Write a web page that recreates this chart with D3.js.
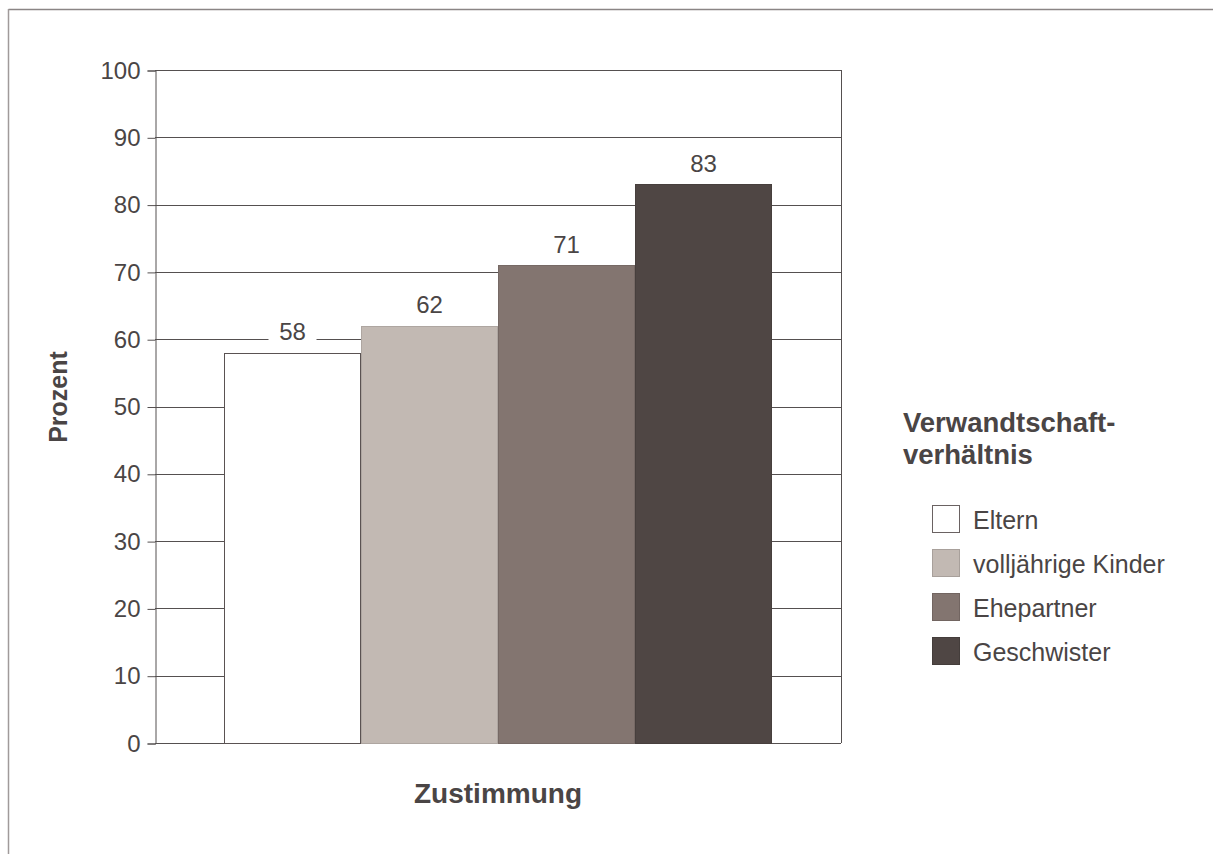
<!DOCTYPE html>
<html>
<head>
<meta charset="utf-8">
<script src="https://cdn.jsdelivr.net/npm/d3@7"></script>
<style>
  html, body { margin: 0; padding: 0; background: #fff; }
  svg { display: block; font-family: "Liberation Sans", Arial, sans-serif; }
</style>
</head>
<body>
<svg id="chart" width="1213" height="854"></svg>
<script>
// Zustimmung nach Verwandtschaftsverhältnis (in Prozent)
const categories = ["Eltern", "volljährige Kinder", "Ehepartner", "Geschwister"];
const values = [58, 62, 71, 83];
const colors = ["#ffffff", "#c2b9b3", "#837570", "#4f4644"];
const yTicks = [0, 10, 20, 30, 40, 50, 60, 70, 80, 90, 100];
const xTitle = "Zustimmung";
const yTitle = "Prozent";
const legendTitle = ["Verwandtschaft-", "verhältnis"];

const textColor = "#4a4545";
const lineColor = "#555050";

const svg = d3.select("#chart");

// outer frame (top and left edge)
svg.append("line").attr("x1", 8.5).attr("x2", 1213).attr("y1", 9.5).attr("y2", 9.5)
  .attr("stroke", "#8a8585").attr("stroke-width", 1.5);
svg.append("line").attr("x1", 8.5).attr("x2", 8.5).attr("y1", 9).attr("y2", 854)
  .attr("stroke", "#a09a9a").attr("stroke-width", 1.5);

const plot = { left: 155, right: 841, top: 70, bottom: 743 };

const y = d3.scaleLinear().domain([0, 100]).range([plot.bottom, plot.top]);
const x = d3.scaleBand().domain(categories).range([224, 772]).paddingInner(0).paddingOuter(0);

// horizontal gridlines
svg.append("g").selectAll("line").data(yTicks).join("line")
  .attr("x1", plot.left).attr("x2", plot.right)
  .attr("y1", d => Math.round(y(d)) + 0.5).attr("y2", d => Math.round(y(d)) + 0.5)
  .attr("stroke", lineColor).attr("stroke-width", 1);

// right edge of plot
svg.append("line").attr("x1", plot.right + 0.5).attr("x2", plot.right + 0.5)
  .attr("y1", plot.top).attr("y2", plot.bottom)
  .attr("stroke", lineColor).attr("stroke-width", 1);

// y axis
const yAxis = d3.axisLeft(y).tickValues(yTicks).tickSize(8).tickPadding(7);
const gy = svg.append("g").attr("transform", `translate(${plot.left + 0.5},0.5)`).call(yAxis);
gy.select(".domain").attr("stroke", lineColor);
gy.selectAll(".tick line").attr("stroke", lineColor);
gy.selectAll(".tick text").attr("fill", textColor).attr("font-size", 24)
  .attr("font-family", "Liberation Sans, Arial, sans-serif");

// bars
svg.append("g").selectAll("rect").data(values).join("rect")
  .attr("x", (d, i) => x(categories[i]) + 0.5)
  .attr("y", d => Math.round(y(d)) + 0.5)
  .attr("width", x.bandwidth() - 1)
  .attr("height", d => plot.bottom - Math.round(y(d)))
  .attr("fill", (d, i) => colors[i])
  .attr("stroke", (d, i) => i === 0 ? "#5a5252" : d3.color(colors[i]).darker(0.3))
  .attr("stroke-width", 1);

// value labels with white backing
const labels = svg.append("g").selectAll("g").data(values).join("g")
  .attr("transform", (d, i) => `translate(${x(categories[i]) + x.bandwidth() / 2},${y(d) - 12.5})`);
labels.append("rect")
  .attr("x", -24).attr("y", -21).attr("width", 48).attr("height", 28)
  .attr("fill", "#fff");
labels.append("text")
  .attr("text-anchor", "middle")
  .attr("fill", textColor).attr("font-size", 24)
  .text(d => d);

// axis titles
svg.append("text")
  .attr("x", 498).attr("y", 803)
  .attr("text-anchor", "middle")
  .attr("font-size", 28).attr("font-weight", "bold").attr("fill", textColor)
  .text(xTitle);

svg.append("text")
  .attr("transform", "translate(67,397) rotate(-90)")
  .attr("text-anchor", "middle")
  .attr("font-size", 25).attr("font-weight", "bold").attr("fill", textColor)
  .text(yTitle);

// legend
const legend = svg.append("g");
legend.selectAll("text.lt").data(legendTitle).join("text")
  .attr("class", "lt")
  .attr("x", 903).attr("y", (d, i) => 432 + i * 32)
  .attr("font-size", 27.5).attr("font-weight", "bold").attr("fill", textColor)
  .text(d => d);

const items = legend.selectAll("g.item").data(categories).join("g")
  .attr("class", "item")
  .attr("transform", (d, i) => `translate(932,${505 + i * 44})`);
items.append("rect")
  .attr("x", 0.5).attr("y", 0.5).attr("width", 27).attr("height", 27)
  .attr("fill", (d, i) => colors[i])
  .attr("stroke", (d, i) => i === 0 ? "#6a6262" : d3.color(colors[i]).darker(0.4))
  .attr("stroke-width", 1);
items.append("text")
  .attr("x", 41).attr("y", 24)
  .attr("font-size", 25).attr("fill", textColor)
  .text(d => d);
</script>
</body>
</html>
